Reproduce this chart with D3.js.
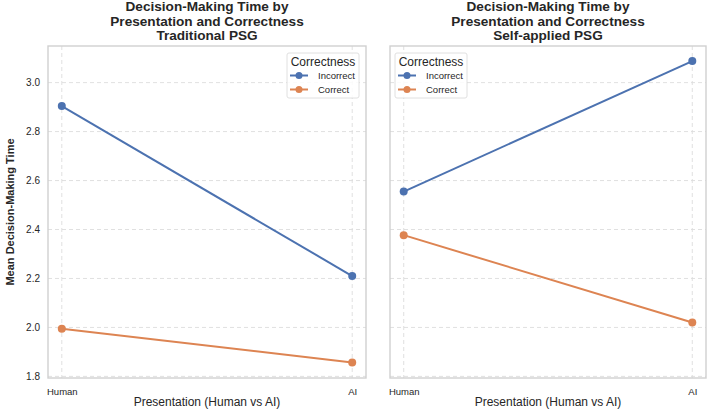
<!DOCTYPE html>
<html>
<head>
<meta charset="utf-8">
<script src="https://cdn.jsdelivr.net/npm/d3@7"></script>
<style>
  body { margin: 0; background: #fff; }
  text { font-family: "Liberation Sans", Arial, sans-serif; fill: #262626; }
</style>
</head>
<body>
<svg id="chart" width="709" height="413"></svg>
<script>
const presentations = ["Human", "AI"];
const correctness = ["Incorrect", "Correct"];
const panelTitles = [
    ["Decision-Making Time by", "Presentation and Correctness", "Traditional PSG"],
    ["Decision-Making Time by", "Presentation and Correctness", "Self-applied PSG"]
];
// mean time per panel, per correctness, in presentation order
const traditionalIncorrect = [2.904, 2.21];
const traditionalCorrect = [1.995, 1.857];
const selfIncorrect = [2.555, 3.088];
const selfCorrect = [2.377, 2.02];
const yTicks = [1.8, 2.0, 2.2, 2.4, 2.6, 2.8, 3.0];
const legendCorners = ["right", "left"];

const panels = [
    [traditionalIncorrect, traditionalCorrect],
    [selfIncorrect, selfCorrect]
];
const colors = { "Incorrect": "#4C72B0", "Correct": "#DD8452" };

const svg = d3.select("#chart");
const plotTop = 46, plotBottom = 378;
const panelX = [[48, 366], [390, 706]];

const y = d3.scaleLinear().domain([1.7934, 3.1496]).range([plotBottom, plotTop]);

panels.forEach((series, i) => {
    const [x0, x1] = panelX[i];
    const x = d3.scalePoint().domain(presentations).range([x0, x1]).padding(0.0475);
    const g = svg.append("g");

    // grid
    g.selectAll(".hgrid").data(yTicks).enter().append("line")
        .attr("x1", x0).attr("x2", x1)
        .attr("y1", d => y(d)).attr("y2", d => y(d))
        .attr("stroke", "#dcdcdc").attr("stroke-dasharray", "4,3").attr("stroke-width", 0.9);
    g.selectAll(".vgrid").data(presentations).enter().append("line")
        .attr("x1", d => x(d)).attr("x2", d => x(d))
        .attr("y1", plotTop).attr("y2", plotBottom)
        .attr("stroke", "#dcdcdc").attr("stroke-dasharray", "4,3").attr("stroke-width", 0.9);

    // frame
    g.append("rect")
        .attr("x", x0).attr("y", plotTop).attr("width", x1 - x0).attr("height", plotBottom - plotTop)
        .attr("fill", "none").attr("stroke", "#d0d0d0").attr("stroke-width", 1.4);

    // x axis
    const xAxis = g.append("g").attr("transform", `translate(0,${plotBottom})`)
        .call(d3.axisBottom(x).tickSize(0).tickPadding(10));
    xAxis.select(".domain").remove();
    xAxis.selectAll("text").style("font-size", "9.5px").style("fill", "#262626");

    g.append("text")
        .attr("x", (x0 + x1) / 2).attr("y", 406)
        .attr("text-anchor", "middle").style("font-size", "12px")
        .text("Presentation (Human vs AI)");

    if (i === 0) {
        const yAxis = g.append("g").attr("transform", `translate(${x0},0)`)
            .call(d3.axisLeft(y).tickValues(yTicks).tickFormat(d3.format(".1f")).tickSize(0).tickPadding(8));
        yAxis.select(".domain").remove();
        yAxis.selectAll("text").style("font-size", "10px").style("fill", "#262626");
        g.append("text")
            .attr("transform", `translate(10,${(plotTop + plotBottom) / 2}) rotate(-90)`)
            .attr("text-anchor", "middle").attr("dy", "0.35em")
            .style("font-size", "11px").style("font-weight", "bold")
            .text("Mean Decision-Making Time");
    }

    // title
    g.append("text")
        .attr("x", (x0 + x1) / 2).attr("y", 11)
        .attr("text-anchor", "middle").style("font-size", "13.6px").style("font-weight", "bold")
        .selectAll("tspan").data(panelTitles[i]).enter().append("tspan")
        .attr("x", (x0 + x1) / 2).attr("dy", (d, k) => k === 0 ? 0 : 14.5)
        .text(d => d);

    // lines
    const line = d3.line().x((d, k) => x(presentations[k])).y(d => y(d));
    correctness.forEach((c, k) => {
        g.append("path").datum(series[k])
            .attr("d", line).attr("fill", "none")
            .attr("stroke", colors[c]).attr("stroke-width", 2);
        g.selectAll(".pt" + k).data(series[k]).enter().append("circle")
            .attr("cx", (d, j) => x(presentations[j])).attr("cy", d => y(d))
            .attr("r", 4).attr("fill", colors[c]);
    });

    // legend
    const lw = 72, lh = 45;
    const lx = legendCorners[i] === "right" ? x1 - 7 - lw : x0 + 5;
    const ly = plotTop + 7;
    const leg = g.append("g").attr("transform", `translate(${lx},${ly})`);
    leg.append("rect").attr("width", lw).attr("height", lh).attr("rx", 2)
        .attr("fill", "#fff").attr("fill-opacity", 0.85)
        .attr("stroke", "#dddddd").attr("stroke-width", 0.9);
    leg.append("text").attr("x", lw / 2).attr("y", 12.5)
        .attr("text-anchor", "middle").style("font-size", "12px").text("Correctness");
    correctness.forEach((c, k) => {
        const yy = 22.5 + k * 14;
        leg.append("line").attr("x1", 3).attr("x2", 21).attr("y1", yy).attr("y2", yy)
            .attr("stroke", colors[c]).attr("stroke-width", 2);
        leg.append("circle").attr("cx", 12).attr("cy", yy).attr("r", 3.5).attr("fill", colors[c]);
        leg.append("text").attr("x", 31).attr("y", yy).attr("dy", "0.35em")
            .style("font-size", "9.5px").text(c);
    });
});
</script>
</body>
</html>
